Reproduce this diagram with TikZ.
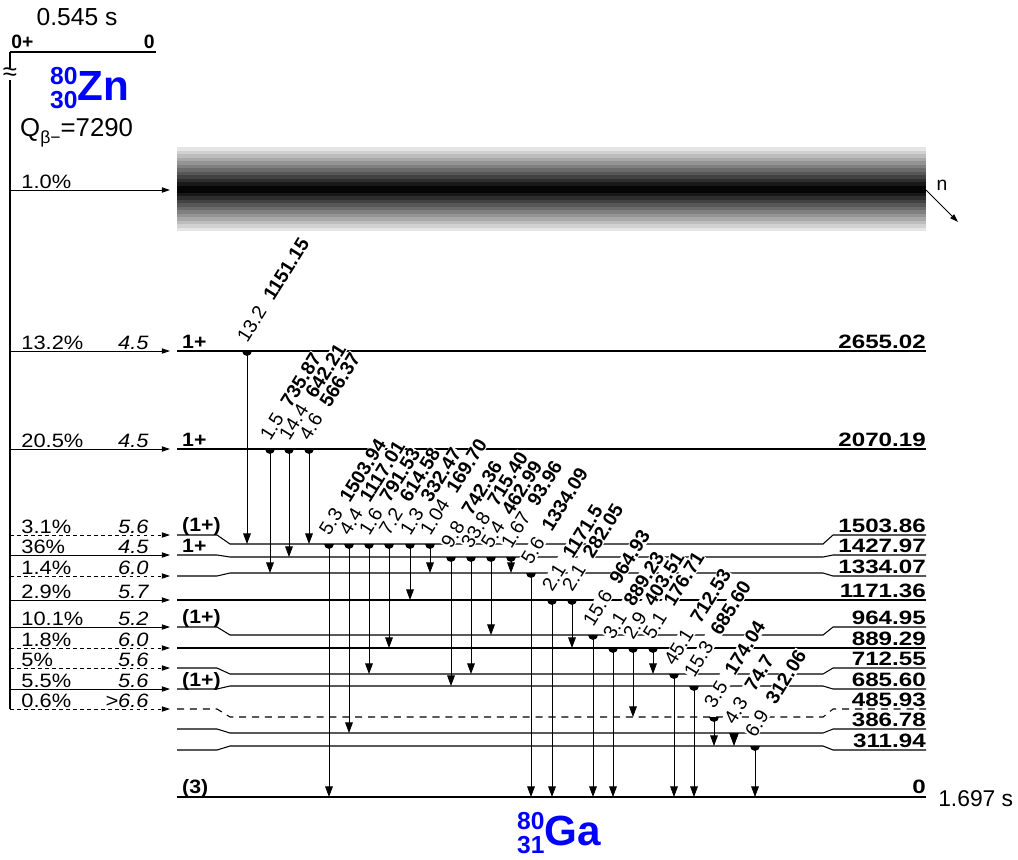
\documentclass[tikz,border=0pt]{standalone}
\usepackage{fontspec}
\setmainfont{Liberation Sans}
\usetikzlibrary{arrows.meta,calc}

\newcommand{\fsz}{\fontsize{16.5}{18}\selectfont}
\newcommand{\wide}[2]{\scalebox{#1}[1]{#2}}
\newcommand{\nucl}[3]{{\fontsize{21}{21}\selectfont\rlap{\raisebox{13pt}{#1}}\raisebox{-7pt}{#2}}{\fontsize{36}{36}\selectfont #3}}
% level: [opts]{name}{y at the ends}{y in the middle}
\newcommand{\lvl}[4][]{%
  \draw[lev,#1] (177,#3) -- (217,#3) -- (230,#4) -- (823,#4) -- (833,#3) -- (926,#3);
  \coordinate (#2) at (0,#4);
  \coordinate (#2e) at (177,#3);}
% gamma: {x}{from}{to}{intensity}{energy}
\newcommand{\gam}[5]{%
  \draw[gline] ($(#2)+(#1,0)$) -- ($(#3)+(#1,0)$);
  \fill ($(#2)+(#1,0)$) ++(-4.2pt,0) arc[start angle=180,end angle=360,radius=4.2pt] -- cycle;
  \node[glab] (g#5) at ($(#2)+(#1,-7)$) {#4\hspace{0.6em}\textbf{#5}};}
% feeding: [opts]{level}{percent}{logft}
\newcommand{\feed}[4][]{%
  \draw[feedarr,#1] (#2e -| stem) -- ([xshift=-0.21cm]#2e);
  \node[pct,xshift=0.3cm] (p#2) at (#2e -| stem) {\wide{1.13}{#3}};
  \node[lft] (f#2) at ([xshift=-0.81cm]#2e) {\wide{1.13}{#4}};}

\begin{document}
\begin{tikzpicture}[x=0.03cm,y=-0.03cm,
  every node/.style={font=\fsz},
  lev/.style={line width=0.9pt},
  gline/.style={line width=0.7pt,-{Triangle[length=9pt,width=6.5pt]}},
  feedarr/.style={line width=0.7pt,-{Triangle[length=7pt,width=4.5pt]}},
  glab/.style={rotate=58,anchor=base west,fill=white,inner sep=0.5pt},
  elab/.style={anchor=base east,font=\fsz\bfseries,inner sep=0pt},
  spin/.style={anchor=base west,font=\fsz\bfseries,inner sep=0pt},
  pct/.style={anchor=south west,inner sep=1pt},
  lft/.style={anchor=south east,inner sep=1pt,font=\fsz\itshape},
  nuc/.style={blue,font=\bfseries,anchor=base west,inner sep=0pt},
  halflife/.style={font=\fontsize{21}{23}\selectfont,inner sep=0pt}
]
  \useasboundingbox (0,0) rectangle (1018,859);
  % parent
  \node[halflife,anchor=base] (t0) at (77,25) {0.545 s};
  \draw[line width=2pt] (10,52) -- (156,52);
  \node[spin,anchor=south west,inner sep=1pt] (s0p) at (10,50) {0+};
  \node[elab,anchor=south east,inner sep=1pt] (e0p) at (156,50) {0};
  \coordinate (stem) at (10,52);
  \draw[lev] (stem) -- (10,709);
  \node[fill=white,inner sep=0pt,font=\fontsize{22}{22}\selectfont] (brk) at (10,74) {≈};
  \node[nuc] (zn) at (50,100) {\nucl{80}{30}{Zn}};
  \node[anchor=base west,inner sep=0pt,font=\fontsize{22}{24}\selectfont] (q) at (20,136)
    {Q\raisebox{-6pt}{\fontsize{15}{15}\selectfont β−}=7290};
  % neutron band
  \foreach \i [evaluate=\i as \p using 10+\i*8] in {0,...,11}
    \fill[black!\p] (177,147+3.5*\i) rectangle (926,231-3.5*\i);
  \coordinate (band) at (177,190);
  \coordinate (bandR) at (926,190);
  \draw[feedarr] (band -| stem) -- ([xshift=-0.21cm]band);
  \node[pct,xshift=0.3cm] (pband) at (band -| stem) {\wide{1.13}{1.0\%}};
  \draw[feedarr] (bandR) -- ++(32,32);
  \node (n) at (942,185) {n};
  % levels
  \lvl{L2655}{351}{351}
  \lvl{L2070}{449}{449}
  \lvl{L1504}{535}{544}
  \lvl{L1428}{555}{557}
  \lvl{L1334}{576}{573}
  \lvl{L1171}{600}{600}
  \lvl{L965}{627}{635}
  \lvl{L889}{648}{648}
  \lvl{L713}{668}{674}
  \lvl{L686}{689}{686}
  \lvl[dash pattern=on 6pt off 5pt]{L486}{709}{717}
  \lvl{L387}{729}{733}
  \lvl{L312}{750}{746}
  \draw[line width=2.5pt] (177,797) -- (926,797);
  \coordinate (L0) at (0,797);
  % energies and spins
  \node[elab] (e2655) at (926,348) {\wide{1.25}{2655.02}};
  \node[elab] (e2070) at (926,446) {\wide{1.25}{2070.19}};
  \node[elab] (e1504) at (926,532) {\wide{1.25}{1503.86}};
  \node[elab] (e1428) at (926,552) {\wide{1.25}{1427.97}};
  \node[elab] (e1334) at (926,573) {\wide{1.25}{1334.07}};
  \node[elab] (e1171) at (926,597) {\wide{1.25}{1171.36}};
  \node[elab] (e965) at (926,624) {\wide{1.25}{964.95}};
  \node[elab] (e889) at (926,645) {\wide{1.25}{889.29}};
  \node[elab] (e713) at (926,665) {\wide{1.25}{712.55}};
  \node[elab] (e686) at (926,686) {\wide{1.25}{685.60}};
  \node[elab] (e486) at (926,706) {\wide{1.25}{485.93}};
  \node[elab] (e387) at (926,726) {\wide{1.25}{386.78}};
  \node[elab] (e312) at (926,747) {\wide{1.25}{311.94}};
  \node[elab] (e0) at (926,793) {\wide{1.25}{0}};
  \node[spin] (s2655) at (182,348) {\wide{1.1}{1+}};
  \node[spin] (s2070) at (182,446) {\wide{1.1}{1+}};
  \node[spin] (s1504) at (182,531) {\wide{1.1}{(1+)}};
  \node[spin] (s1428) at (182,552) {\wide{1.1}{1+}};
  \node[spin] (s965) at (182,623) {\wide{1.1}{(1+)}};
  \node[spin] (s686) at (182,686) {\wide{1.1}{(1+)}};
  \node[spin] (s0) at (182,793) {\wide{1.1}{(3)}};
  % feeding
  \feed{L2655}{13.2\%}{4.5}
  \feed{L2070}{20.5\%}{4.5}
  \feed[dashed]{L1504}{3.1\%}{5.6}
  \feed{L1428}{36\%}{4.5}
  \feed[dashed]{L1334}{1.4\%}{6.0}
  \feed{L1171}{2.9\%}{5.7}
  \feed{L965}{10.1\%}{5.2}
  \feed[dashed]{L889}{1.8\%}{6.0}
  \feed[dashed]{L713}{5\%}{5.6}
  \feed{L686}{5.5\%}{5.6}
  \feed[dashed]{L486}{0.6\%}{>6.6}
  % gammas
  \gam{247}{L2655}{L1504}{13.2}{1151.15}
  \gam{270}{L2070}{L1334}{1.5}{735.87}
  \gam{289}{L2070}{L1428}{14.4}{642.21}
  \gam{309}{L2070}{L1504}{4.6}{566.37}
  \gam{329}{L1504}{L0}{5.3}{1503.94}
  \gam{349}{L1504}{L387}{4.4}{1117.01}
  \gam{369}{L1504}{L713}{1.6}{791.53}
  \gam{389}{L1504}{L889}{7.2}{614.58}
  \gam{410}{L1504}{L1171}{1.3}{332.47}
  \gam{430}{L1504}{L1334}{1.04}{169.70}
  \gam{451}{L1428}{L686}{9.8}{742.36}
  \gam{471}{L1428}{L713}{33.8}{715.40}
  \gam{491}{L1428}{L965}{5.4}{462.99}
  \gam{511}{L1428}{L1334}{1.67}{93.96}
  \gam{531}{L1334}{L0}{5.6}{1334.09}
  \gam{552}{L1171}{L0}{2.1}{1171.5}
  \gam{572}{L1171}{L889}{2.1}{282.05}
  \gam{593}{L965}{L0}{15.6}{964.93}
  \gam{613}{L889}{L0}{3.1}{889.23}
  \gam{633}{L889}{L486}{2.9}{403.51}
  \gam{653}{L889}{L713}{5.1}{176.71}
  \gam{674}{L713}{L0}{45.1}{712.53}
  \gam{694}{L686}{L0}{15.3}{685.60}
  \gam{714}{L486}{L312}{3.5}{174.04}
  \gam{734}{L387}{L312}{4.3}{74.7}
  \gam{755}{L312}{L0}{6.9}{312.06}
  % daughter
  \node[halflife,anchor=base west,font=\fontsize{19.5}{21}\selectfont] (t1) at (938,806) {1.697 s};
  \node[nuc] (ga) at (517,845) {\nucl{80}{31}{Ga}};
\end{tikzpicture}
\end{document}
